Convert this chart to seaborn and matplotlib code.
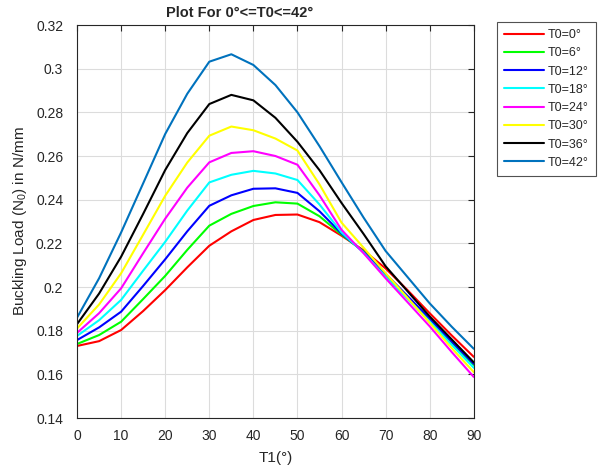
import numpy as np
import pandas as pd
import matplotlib
matplotlib.use("Agg")
import matplotlib.pyplot as plt
import seaborn as sns

# Fibre angle T1 (degrees)
t1 = [0, 5, 10, 15, 20, 25, 30, 35, 40, 45, 50, 55, 60, 65, 70, 75, 80, 85, 90]

# Buckling load N0 (N/mm) for each starting angle T0
n0_t0_0 = [0.1730, 0.1752, 0.1803, 0.1890, 0.1986, 0.2090, 0.2189, 0.2255, 0.2307, 0.2330,
           0.2332, 0.2297, 0.2235, 0.2168, 0.2085, 0.1985, 0.1880, 0.1778, 0.1680]
n0_t0_6 = [0.1739, 0.1780, 0.1841, 0.1945, 0.2051, 0.2170, 0.2281, 0.2335, 0.2371, 0.2388,
           0.2382, 0.2324, 0.2240, 0.2163, 0.2055, 0.1955, 0.1850, 0.1745, 0.1643]
n0_t0_12 = [0.1757, 0.1815, 0.1887, 0.2005, 0.2127, 0.2255, 0.2372, 0.2420, 0.2450, 0.2452,
            0.2431, 0.2347, 0.2245, 0.2160, 0.2060, 0.1958, 0.1855, 0.1750, 0.1648]
n0_t0_18 = [0.1776, 0.1848, 0.1941, 0.2075, 0.2207, 0.2350, 0.2479, 0.2514, 0.2532, 0.2520,
            0.2490, 0.2378, 0.2250, 0.2157, 0.2047, 0.1945, 0.1842, 0.1735, 0.1630]
n0_t0_24 = [0.1790, 0.1880, 0.1994, 0.2155, 0.2313, 0.2455, 0.2571, 0.2614, 0.2622, 0.2600,
            0.2560, 0.2420, 0.2262, 0.2155, 0.2040, 0.1930, 0.1820, 0.1702, 0.1588]
n0_t0_30 = [0.1810, 0.1920, 0.2063, 0.2240, 0.2418, 0.2570, 0.2693, 0.2735, 0.2718, 0.2680,
            0.2625, 0.2470, 0.2295, 0.2180, 0.2063, 0.1950, 0.1836, 0.1720, 0.1610]
n0_t0_36 = [0.1830, 0.1970, 0.2139, 0.2335, 0.2536, 0.2705, 0.2838, 0.2880, 0.2855, 0.2775,
            0.2665, 0.2535, 0.2385, 0.2243, 0.2095, 0.1980, 0.1865, 0.1760, 0.1655]
n0_t0_42 = [0.1860, 0.2040, 0.2250, 0.2475, 0.2701, 0.2885, 0.3032, 0.3066, 0.3017, 0.2925,
            0.2800, 0.2645, 0.2480, 0.2318, 0.2165, 0.2045, 0.1925, 0.1818, 0.1717]

labels = ["T0=0°", "T0=6°", "T0=12°", "T0=18°", "T0=24°", "T0=30°", "T0=36°", "T0=42°"]
series = [n0_t0_0, n0_t0_6, n0_t0_12, n0_t0_18, n0_t0_24, n0_t0_30, n0_t0_36, n0_t0_42]
colors = ["#ff0000", "#00ff00", "#0000ff", "#00ffff", "#ff00ff", "#ffff00", "#000000", "#0072bd"]

df = pd.concat(
    [pd.DataFrame({"T1": t1, "N0": s, "T0": lab}) for s, lab in zip(series, labels)],
    ignore_index=True,
)

sns.set_style("white")
plt.rcParams["font.family"] = ["Liberation Sans", "DejaVu Sans"]
plt.rcParams["mathtext.fontset"] = "custom"
plt.rcParams["mathtext.rm"] = "Liberation Sans"

axis_col = "#262626"

fig = plt.figure(figsize=(6.02, 4.72), dpi=100)
ax = fig.add_axes([0.128, 0.1144, 0.659, 0.8326])

sns.lineplot(data=df, x="T1", y="N0", hue="T0", hue_order=labels,
             palette=colors, linewidth=1.5, ax=ax, legend=True)

yt = np.round(np.arange(0.14, 0.321, 0.02), 2)
ax.set_xlim(0, 90)
ax.set_ylim(0.14, 0.32)
ax.set_xticks(np.arange(0, 91, 10))
ax.set_yticks(yt)
ax.set_yticklabels([f"{v:g}" for v in yt])

ax.grid(True, color="#dcdcdc", linewidth=0.8)
ax.set_axisbelow(True)
for sp in ax.spines.values():
    sp.set_visible(True)
    sp.set_color(axis_col)
    sp.set_linewidth(0.8)
ax.tick_params(axis="both", which="major", direction="in", length=4, width=0.8,
               colors=axis_col, labelsize=10, top=True, right=True)
ax.tick_params(axis="x", pad=8)
ax.tick_params(axis="y", pad=10)

ax.set_xlabel("T1(°)", fontsize=11, color=axis_col, labelpad=6)
ax.set_ylabel(r"Buckling Load (N$_{\mathregular{0}}$) in N/mm", fontsize=11,
              color=axis_col, labelpad=5)
fig.text(240 / 602, 1 - 13 / 472, "Plot For 0°<=T0<=42°", fontsize=10.5,
         fontweight="bold", ha="center", va="center")

handles, _ = ax.get_legend_handles_labels()
ax.get_legend().remove()
leg = fig.legend(handles, labels, loc="upper left", bbox_to_anchor=(0.826, 0.953),
                 frameon=True, fancybox=False, fontsize=9, borderaxespad=0,
                 handlelength=3.2, handletextpad=0.3, labelspacing=0.5,
                 borderpad=0.55)
leg.get_frame().set_edgecolor(axis_col)
leg.get_frame().set_linewidth(0.8)
for t in leg.get_texts():
    t.set_color(axis_col)

fig.savefig("out.png", dpi=100)
